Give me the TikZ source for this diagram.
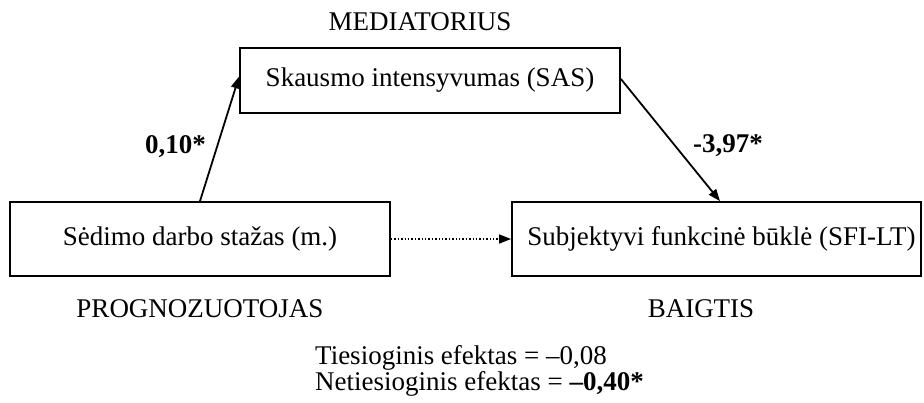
\documentclass[tikz,border=0pt]{standalone}
\usepackage{fontspec}
\setmainfont{Liberation Serif}
\usetikzlibrary{arrows.meta}
\begin{document}
\begin{tikzpicture}[x=1pt,y=-1pt,
  varbox/.style={draw,line width=1.8pt,minimum height=74pt,inner sep=0pt,font=\fontsize{27}{31}\selectfont},
  path/.style={line width=1.8pt,-{Triangle[length=12pt,width=9pt]}},
  weakpath/.style={line width=1.4pt,dotted,-{Triangle[length=12pt,width=9pt]}},
  role/.style={font=\fontsize{27}{31}\selectfont,inner sep=0pt},
  coef/.style={font=\fontsize{27}{31}\selectfont\bfseries,inner sep=0pt,anchor=base west}]
\useasboundingbox (0,0) rectangle (924,402);
% variables
\node[varbox,minimum width=380pt] (pred) at (200,239) {Sėdimo darbo stažas (m.)};
\node[varbox,minimum width=380pt,minimum height=65pt] (med) at (430,80.5) {Skausmo intensyvumas (SAS)};
\node[varbox,minimum width=409pt] (out) at (716.5,239) {\hspace{10pt}Subjektyvi funkcinė būklė (SFI-LT)};
% role labels
\node[role,anchor=base] (lmed) at (420,30) {MEDIATORIUS};
\node[role,anchor=base] (lpred) at (200,317) {PROGNOZUOTOJAS};
\node[role,anchor=base] (lout) at (701,317) {BAIGTIS};
% paths
\draw[path] (pred.north) -- ([yshift=4pt]med.west);
\draw[path] ([yshift=1.5pt]med.east) -- ([xshift=3.5pt]out.north);
\draw[weakpath] (pred.east) -- (out.west);
% coefficients
\node[coef] (ca) at (145,153) {0,10*};
\node[coef] (cb) at (693,152) {-3,97*};
% effects
\node[role,anchor=base west] (direct) at (315,364) {Tiesioginis efektas = –0,08};
\node[role,anchor=base west] (indirect) at (315,390) {Netiesioginis efektas = \textbf{–0,40*}};
\end{tikzpicture}
\end{document}
